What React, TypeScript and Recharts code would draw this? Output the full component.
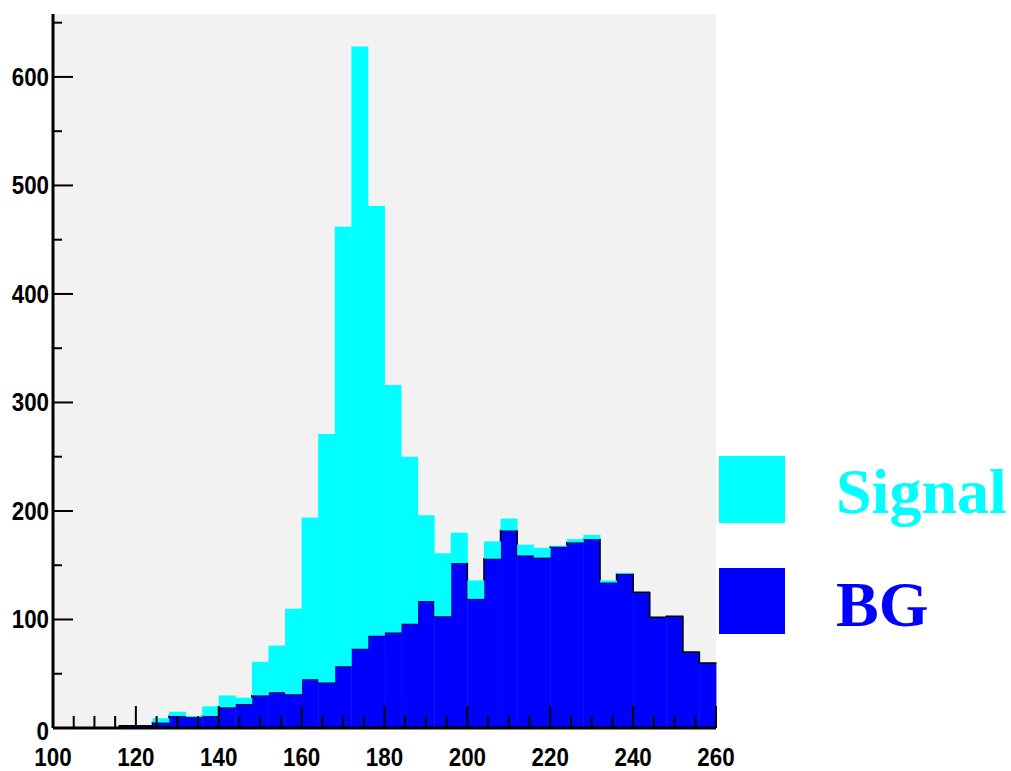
import { BarChart, Bar, XAxis, YAxis, CartesianGrid } from 'recharts';

// histogram bins (lower edge), 4 units wide
const binLow = [
  100, 104, 108, 112, 116, 120, 124, 128, 132, 136,
  140, 144, 148, 152, 156, 160, 164, 168, 172, 176,
  180, 184, 188, 192, 196, 200, 204, 208, 212, 216,
  220, 224, 228, 232, 236, 240, 244, 248, 252, 256,
];

const bgCounts = [
  0, 0, 0, 0, 2, 2, 5, 11, 10, 11,
  19, 22, 30, 33, 31, 45, 42, 57, 73, 85,
  88, 96, 117, 103, 152, 119, 156, 182, 159, 157,
  167, 171, 174, 134, 142, 125, 102, 103, 70, 60,
];

const signalCounts = [
  0, 0, 0, 0, 0, 0, 4, 4, 1, 9,
  11, 6, 31, 43, 79, 149, 229, 405, 555, 396,
  228, 154, 79, 58, 28, 17, 16, 11, 10, 9,
  1, 3, 4, 2, 1, 0, 0, 0, 0, 0,
];

const xTicks = [
  100, 105, 110, 115, 120, 125, 130, 135, 140, 145, 150, 155, 160, 165, 170, 175,
  180, 185, 190, 195, 200, 205, 210, 215, 220, 225, 230, 235, 240, 245, 250, 255, 260,
];
const xLabels = [100, 120, 140, 160, 180, 200, 220, 240, 260];
const yTicks = [0, 50, 100, 150, 200, 250, 300, 350, 400, 450, 500, 550, 600, 650];

const binWidth = 4;

const data = binLow.map((b, i) => ({
  bin: b,
  bg: bgCounts[i],
  signal: signalCounts[i],
}));

const axisFont = '"Liberation Sans", Arial, sans-serif';

// bold, slightly condensed label like the ROOT helvetica
const Label = ({ x, y, anchor, children }: any) => (
  <text
    transform={`translate(${x},${y}) scale(0.86,1)`}
    textAnchor={anchor}
    fontFamily={axisFont}
    fontWeight='bold'
    fontSize={26}
    fill='#000'
  >
    {children}
  </text>
);

// category ticks sit at bin centres; place the real tick marks at bin edges
const XTick = (props: any) => {
  const { x, y, payload, index } = props;
  const b = payload.value;
  const half = payload.offset || 8.3;
  const left = x - half;
  const marks = xTicks.filter(
    (t) => (t >= b && t < b + binWidth) || (index === binLow.length - 1 && t === b + binWidth)
  );
  return (
    <g>
      {marks.map((t) => {
        const tx = left + ((t - b) / binWidth) * half * 2;
        const major = xLabels.includes(t);
        return (
          <g key={t}>
            <line x1={tx} x2={tx} y1={y} y2={y - (major ? 22 : 12)} stroke='#000' strokeWidth={2} />
            {major && (
              <Label x={tx} y={y + 38} anchor='middle'>
                {t}
              </Label>
            )}
          </g>
        );
      })}
    </g>
  );
};

const YTick = (props: any) => {
  const { x, y, payload } = props;
  const major = payload.value % 100 === 0;
  return (
    <g>
      <line x1={x} x2={x + (major ? 20 : 9)} y1={y} y2={y} stroke='#000' strokeWidth={2} />
      {major && (
        <Label x={x - 4} y={payload.value === 0 ? y + 12 : y + 9} anchor='end'>
          {payload.value}
        </Label>
      )}
    </g>
  );
};

// blue bars with the black step outline on top
const BgShape = (props: any) => {
  const { x, y, width, height, index } = props;
  const v = bgCounts[index];
  if (!v || height <= 0) return null;
  const ppu = height / v;
  const prev = index > 0 ? bgCounts[index - 1] : 0;
  const prevTop = y + height - prev * ppu;
  return (
    <g>
      <rect x={x} y={y} width={width} height={height} fill='#0000ff' />
      <path
        d={`M${x},${prevTop} L${x},${y} L${x + width},${y}`}
        stroke='#000'
        strokeWidth={1.5}
        fill='none'
      />
    </g>
  );
};

const legendFont = '"Liberation Serif", "Times New Roman", serif';

const LegendBox = () => (
  <svg width={292} height={200} style={{ position: 'absolute', left: 719, top: 450 }}>
    <rect x={0} y={6} width={66} height={67} fill='#00ffff' />
    <rect x={0} y={118} width={66} height={66} fill='#0000ff' />
    <text x={117} y={63} fontFamily={legendFont} fontWeight='bold' fontSize={64} fill='#00ffff'>
      Signal
    </text>
    <text x={117} y={176} fontFamily={legendFont} fontWeight='bold' fontSize={64} fill='#0000ff'>
      BG
    </text>
  </svg>
);

const App = () => {
  return (
    <div style={{ position: 'absolute', left: 0, top: 0, width: 1011, height: 771, background: '#fff' }}>
      <BarChart
        width={1011}
        height={771}
        data={data}
        margin={{ top: 14, right: 295, left: 0, bottom: 0 }}
        barCategoryGap={0}
        barGap={0}
      >
        <CartesianGrid fill='#f2f2f2' horizontal={false} vertical={false} />
        <XAxis
          dataKey='bin'
          interval={0}
          height={43}
          tickSize={0}
          tickMargin={0}
          tickLine={false}
          axisLine={{ stroke: '#000', strokeWidth: 3 }}
          tick={XTick}
        />
        <XAxis
          xAxisId='top'
          orientation='top'
          type='number'
          domain={[0, 1]}
          height={0}
          tick={false}
          tickLine={false}
          axisLine={{ stroke: '#000', strokeWidth: 2 }}
        />
        <YAxis
          type='number'
          domain={[0, 658]}
          ticks={yTicks}
          interval={0}
          width={53}
          tickSize={0}
          tickMargin={0}
          tickLine={false}
          axisLine={{ stroke: '#000', strokeWidth: 3 }}
          tick={YTick}
          allowDataOverflow
        />
        <YAxis
          yAxisId='right'
          orientation='right'
          type='number'
          domain={[0, 1]}
          width={0}
          tick={false}
          tickLine={false}
          axisLine={{ stroke: '#000', strokeWidth: 2 }}
        />
        <Bar dataKey='bg' stackId='h' fill='#0000ff' shape={BgShape} isAnimationActive={false} />
        <Bar dataKey='signal' stackId='h' fill='#00ffff' isAnimationActive={false} />
      </BarChart>
      <LegendBox />
    </div>
  );
};

export default App;
